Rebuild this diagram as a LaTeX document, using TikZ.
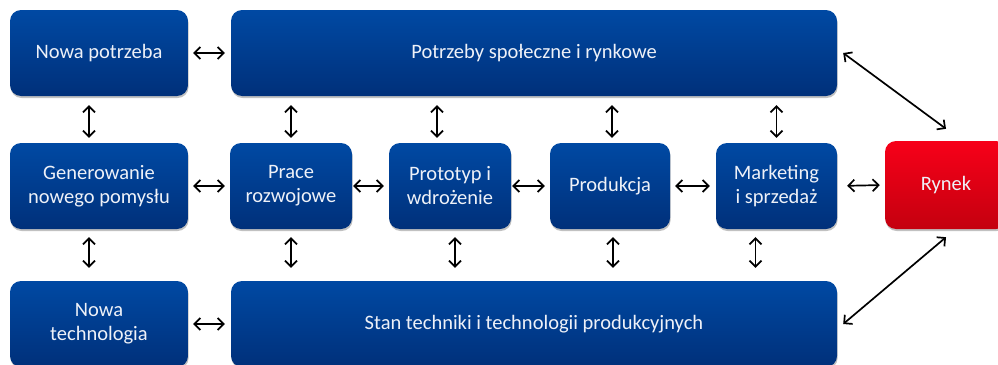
\documentclass[tikz,border=0pt]{standalone}
\usepackage{fontspec}
\setmainfont{Carlito}
\usetikzlibrary{arrows.meta,shadows,calc}
\definecolor{boxtop}{HTML}{0049A3}
\definecolor{boxbot}{HTML}{00307A}
\definecolor{redtop}{HTML}{F70019}
\definecolor{redbot}{HTML}{C4000F}
\definecolor{txt}{HTML}{EEF1F8}
\tikzset{
  bluebox/.style={rounded corners=11pt, top color=boxtop, bottom color=boxbot, draw=none,
    text=txt, align=center, minimum height=86pt, inner sep=2pt,
    font=\fontsize{20.5}{24}\selectfont,
    drop shadow={shadow xshift=0.6pt, shadow yshift=-2pt, opacity=0.35, fill=black!70}},
  redbox/.style={bluebox, top color=redtop, bottom color=redbot},
  biarrow/.style={{Straight Barb[length=6pt,width=12pt]}-{Straight Barb[length=6pt,width=12pt]}, line width=1.7pt, black},
}
\begin{document}
\begin{tikzpicture}[x=1pt,y=-1pt]
\useasboundingbox (0,0) rectangle (998,364);
\clip (0,0) rectangle (998,364);
% row 1
\node[bluebox, minimum width=178pt] (np) at (99,53) {Nowa potrzeba};
\node[bluebox, minimum width=606pt] (psr) at (534,53) {Potrzeby społeczne i rynkowe};
% row 2
\node[bluebox, minimum width=178pt] (gen) at (99,186) {Generowanie\\nowego pomysłu};
\node[bluebox, minimum width=122pt] (pr) at (291,186) {Prace\\rozwojowe};
\node[bluebox, minimum width=122pt] (pt) at (450,186) {Prototyp i\\wdrożenie};
\node[bluebox, minimum width=120pt] (prod) at (610,186) {Produkcja};
\node[bluebox, minimum width=121pt] (mark) at (776.5,186) {Marketing\\i sprzedaż};
\node[redbox, minimum width=122pt, minimum height=88pt] (ryn) at (946,185) {Rynek};
% row 3
\node[bluebox, minimum width=178pt] (nt) at (99,324) {Nowa\\technologia};
\node[bluebox, minimum width=606pt] (stan) at (534,324) {Stan techniki i technologii produkcyjnych};
% horizontal arrows
\draw[biarrow, shorten <=5pt, shorten >=6pt] (np.east) -- (psr.west);
\draw[biarrow, shorten <=5pt, shorten >=5pt] (gen.east) -- (pr.west);
\draw[biarrow, shorten <=1pt, shorten >=5pt] (pr.east) -- (pt.west);
\draw[biarrow, shorten <=1pt, shorten >=5pt] (pt.east) -- (prod.west);
\draw[biarrow, shorten <=5pt, shorten >=6pt] (prod.east) -- (mark.west);
\draw[biarrow, shorten <=10pt, shorten >=5pt] (mark.east) -- (ryn.west);
\draw[biarrow, shorten <=5pt, shorten >=6pt] (nt.east) -- (stan.west);
% vertical arrows, upper
\coordinate (u1) at ($(gen.north)+(-10pt,0)$);
\coordinate (u2) at (pr.north);
\coordinate (u3) at ($(pt.north)+(-13pt,0)$);
\coordinate (u4) at ($(prod.north)+(2pt,0)$);
\coordinate (u5) at (mark.north);
\draw[biarrow, shorten <=9pt, shorten >=5pt] (u1 |- np.south) -- (u1);
\foreach \c in {u2,u3,u4,u5}
  \draw[biarrow, shorten <=9pt, shorten >=5pt] (\c |- psr.south) -- (\c);
% vertical arrows, lower
\coordinate (d1) at ($(gen.south)+(-10pt,0)$);
\coordinate (d2) at (pr.south);
\coordinate (d3) at ($(pt.south)+(5pt,0)$);
\coordinate (d4) at ($(prod.south)+(3pt,0)$);
\coordinate (d5) at ($(mark.south)+(-21pt,0)$);
\draw[biarrow, shorten <=8pt, shorten >=13pt] (d1) -- (d1 |- nt.north);
\foreach \c in {d2,d3,d4,d5}
  \draw[biarrow, shorten <=8pt, shorten >=13pt] (\c) -- (\c |- stan.north);
% diagonal arrows
\draw[biarrow] ([xshift=6pt]psr.east) -- ([yshift=12pt]ryn.north);
\draw[biarrow] ([yshift=-8pt]ryn.south) -- ([xshift=6pt]stan.east);
\end{tikzpicture}
\end{document}
